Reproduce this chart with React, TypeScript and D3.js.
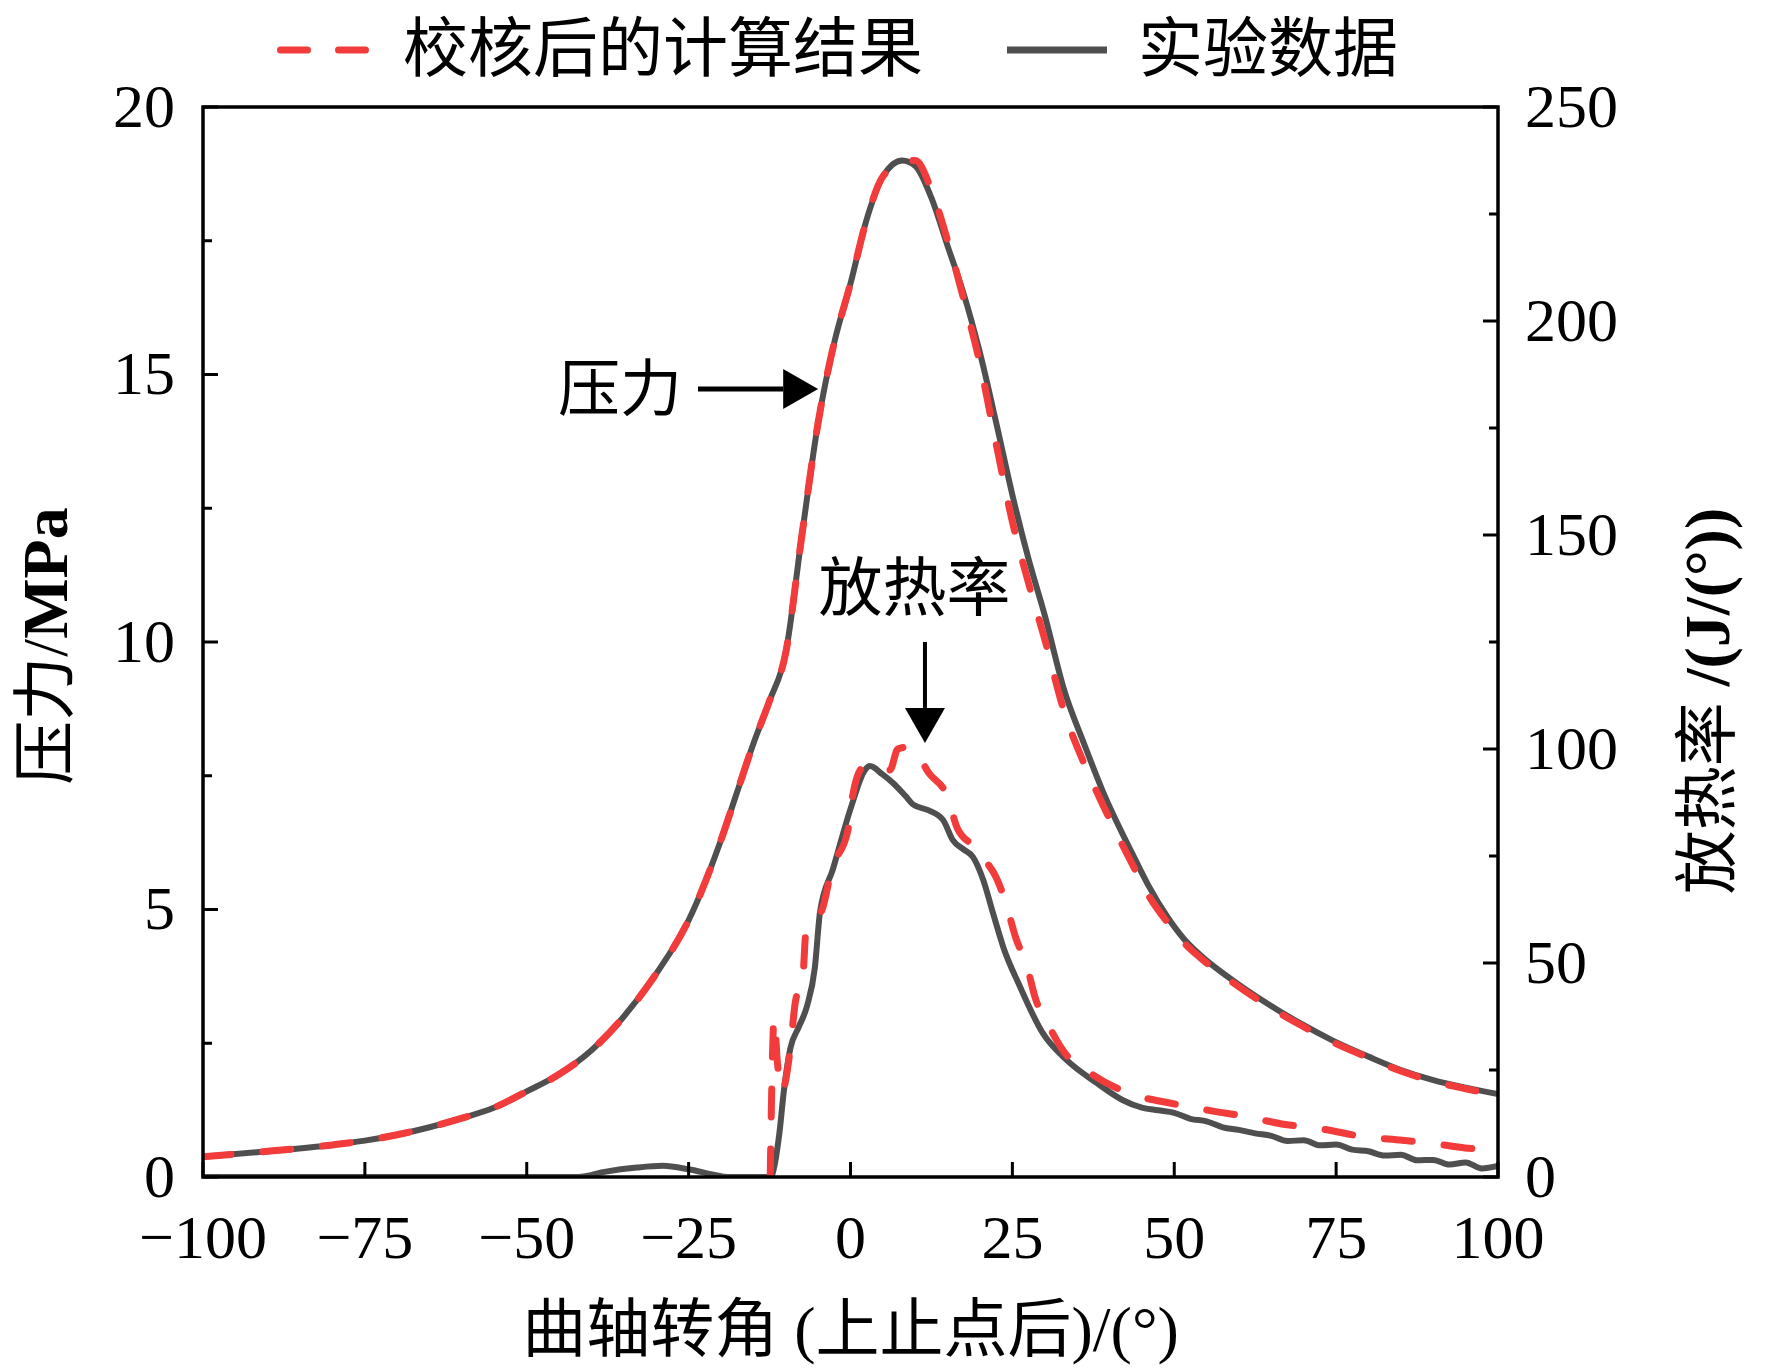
import React from "react";
import * as d3 from "d3";

// crank angle (deg after TDC) and cylinder pressure (MPa)
const pressureAngles = [
  -100, -90, -80, -75, -70, -65, -60, -55, -50, -45, -40, -35, -30, -25, -20,
  -17.5, -15, -12.5, -10, -7.5, -5, -2.5, 0, 2.5, 5, 8, 10, 12.5, 15, 17.5, 20,
  22.5, 25, 27.5, 30, 33, 36, 39, 43.5, 46, 49, 51.5, 54, 59, 64, 69.5, 74.5,
  80, 85, 90, 95, 100,
];
const pressureExp = [
  0.38, 0.48, 0.6, 0.68, 0.79, 0.93, 1.1, 1.3, 1.6, 1.92, 2.37, 3.0, 3.8, 4.8,
  6.3, 7.2, 8.1, 8.9, 9.8, 12.0, 14.1, 15.6, 16.7, 17.9, 18.7, 19.0, 18.9,
  18.3, 17.4, 16.5, 15.4, 14.1, 12.75, 11.55, 10.5, 9.1, 8.12, 7.2, 6.05, 5.45,
  4.85, 4.45, 4.15, 3.68, 3.27, 2.87, 2.55, 2.25, 2.0, 1.81, 1.67, 1.55,
];
const pressureCalc = [
  0.38, 0.48, 0.6, 0.68, 0.79, 0.93, 1.1, 1.3, 1.6, 1.92, 2.37, 3.0, 3.8, 4.8,
  6.3, 7.2, 8.1, 8.9, 9.8, 12.0, 14.1, 15.6, 16.7, 17.9, 18.7, 18.95, 19.0,
  18.45, 17.5, 16.4, 15.2, 13.7, 12.25, 11.1, 10.05, 8.7, 7.75, 6.95, 5.85,
  5.27, 4.75, 4.38, 4.1, 3.64, 3.23, 2.84, 2.52, 2.23, 1.98, 1.79, 1.65, 1.53,
];

// heat release rate (J/deg)
const hrrExpAngles = [
  -100, -42, -38, -33, -29, -25, -21, -19, -12.4, -11, -10.3, -9.3, -8, -6.7,
  -5.5, -4.7, -2.7, 0, 2.2, 3, 5, 6.6, 8.5, 9.7, 12, 14.3, 15.8, 17.5, 18.9,
  20.5, 22, 23.6, 26.2, 29.7, 33.4, 38, 42, 45, 47.5, 50, 52.5, 55, 57.5, 60,
  62.5, 65, 67.5, 70, 72.5, 75, 77.5, 80, 82.5, 85, 87.5, 90, 92.5, 95, 97.5,
  100,
];
const hrrExp = [
  0, 0, 1.2, 2.2, 2.6, 1.8, 0.5, 0, 0, 10, 20, 30, 35, 40, 49, 62, 72, 86, 95,
  96, 94, 92, 89, 87, 85.7, 83.4, 78.7, 76.5, 74.8, 69.4, 61.7, 53.7, 44.4,
  33.6, 27.3, 22, 18, 16.2, 15.6, 15.0, 13.6, 13.0, 11.6, 11.0, 10.2, 9.6, 8.4,
  8.6, 7.4, 7.6, 6.4, 6.0, 5.0, 5.2, 3.9, 4.0, 2.9, 3.4, 2.0, 2.6,
];
const hrrCalcAngles = [
  -12.4, -11.8, -11.3, -10.6, -9.3, -8.6, -7.3, -6.9, -5, -4.4, -2.9, -0.4, 0.2,
  1.9, 3, 6.1, 7.3, 9, 10.4, 12, 15, 16.5, 19.7, 20.8, 22.5, 24, 25.5, 27.3,
  28.5, 30.8, 32.8, 37.5, 44.4, 49.3, 56, 60.5, 66.6, 72.8, 79.8, 85.2, 90.6,
  94.9, 100,
];
const hrrCalc = [
  0, 37, 27, 20, 30, 40, 48, 57, 61, 62.4, 72, 81, 88, 95.8, 96.3, 95.1, 100,
  100.5, 98.6, 94.6, 88.8, 81.5, 76.4, 74, 70, 64, 56, 49, 42, 34.8, 29.6, 23.8,
  18.9, 17.3, 15.4, 14.3, 12.4, 11.2, 9.3, 8.6, 7.7, 6.8, 6.3,
];

const xTicks = [-100, -75, -50, -25, 0, 25, 50, 75, 100];
const leftTicks = [0, 5, 10, 15, 20];
const leftMinor = [2.5, 7.5, 12.5, 17.5];
const rightTicks = [0, 50, 100, 150, 200, 250];
const rightMinor = [25, 75, 125, 175, 225];

const W = 1772;
const H = 1368;
const plot = { left: 203, right: 1498, top: 107, bottom: 1177 };

const RED = "#F23C3C";
const GRAY = "#4F4F4F";
const FONT = "'Liberation Serif', 'Times New Roman', 'Noto Sans CJK SC', serif";

export default function App() {
  const x = d3.scaleLinear().domain([-100, 100]).range([plot.left, plot.right]);
  const yP = d3.scaleLinear().domain([0, 20]).range([plot.bottom, plot.top]);
  const yH = d3.scaleLinear().domain([0, 250]).range([plot.bottom, plot.top]);
  const fmt = d3.format("d");

  const lineOf = (xs: number[], ys: number[], y: d3.ScaleLinear<number, number>) =>
    d3
      .line<number>()
      .x((_, i) => x(xs[i]))
      .y((d) => y(d))
      .curve(d3.curveMonotoneX)(ys) || "";

  const dash = "28 32";
  const majorLen = 15;
  const minorLen = 9;

  // annotation anchors in data space
  const pTip = { x: x(-5), y: yP(14.73) };
  const pTail = x(-23.55);
  const pHead = x(-10.4);
  const hX = x(11.5);
  const hTop = yH(125);
  const hHead = yH(109.6);
  const hTip = yH(101.4);

  return (
    <svg
      width={W}
      height={H}
      viewBox={`0 0 ${W} ${H}`}
      style={{ position: "absolute", left: 0, top: 0, background: "#fff" }}
      fontFamily={FONT}
    >
      <rect width={W} height={H} fill="#fff" />
      <defs>
        <clipPath id="plot-clip">
          <rect
            x={plot.left}
            y={plot.top}
            width={plot.right - plot.left}
            height={plot.bottom - plot.top}
          />
        </clipPath>
      </defs>

      {/* curves */}
      <g clipPath="url(#plot-clip)" fill="none">
        <path d={lineOf(pressureAngles, pressureExp, yP)} stroke={GRAY} strokeWidth={6} />
        <path d={lineOf(hrrExpAngles, hrrExp, yH)} stroke={GRAY} strokeWidth={6} />
        <path
          d={lineOf(pressureAngles, pressureCalc, yP)}
          stroke={RED}
          strokeWidth={7}
          strokeDasharray={dash}
          strokeLinecap="round"
        />
        <path
          d={lineOf(hrrCalcAngles, hrrCalc, yH)}
          stroke={RED}
          strokeWidth={7}
          strokeDasharray={dash}
          strokeLinecap="round"
        />
      </g>

      {/* frame */}
      <rect
        x={plot.left}
        y={plot.top}
        width={plot.right - plot.left}
        height={plot.bottom - plot.top}
        fill="none"
        stroke="#000"
        strokeWidth={3.5}
      />

      {/* bottom axis */}
      {xTicks.map((t) => (
        <g key={`x${t}`}>
          <line x1={x(t)} x2={x(t)} y1={plot.bottom} y2={plot.bottom - majorLen} stroke="#000" strokeWidth={3} />
          <text x={x(t)} y={1258} fontSize={62} textAnchor="middle">
            {fmt(t)}
          </text>
        </g>
      ))}

      {/* left axis */}
      {leftTicks.map((t) => (
        <g key={`l${t}`}>
          <line x1={plot.left} x2={plot.left + majorLen} y1={yP(t)} y2={yP(t)} stroke="#000" strokeWidth={3} />
          <text x={175} y={yP(t)} dy="0.32em" fontSize={62} textAnchor="end">
            {fmt(t)}
          </text>
        </g>
      ))}
      {leftMinor.map((t) => (
        <line key={`lm${t}`} x1={plot.left} x2={plot.left + minorLen} y1={yP(t)} y2={yP(t)} stroke="#000" strokeWidth={3} />
      ))}

      {/* right axis */}
      {rightTicks.map((t) => (
        <g key={`r${t}`}>
          <line x1={plot.right} x2={plot.right - majorLen} y1={yH(t)} y2={yH(t)} stroke="#000" strokeWidth={3} />
          <text x={1525} y={yH(t)} dy="0.32em" fontSize={62} textAnchor="start">
            {fmt(t)}
          </text>
        </g>
      ))}
      {rightMinor.map((t) => (
        <line key={`rm${t}`} x1={plot.right} x2={plot.right - minorLen} y1={yH(t)} y2={yH(t)} stroke="#000" strokeWidth={3} />
      ))}

      {/* axis titles */}
      <text x={(plot.left + plot.right) / 2} y={1351} fontSize={64} textAnchor="middle">
        曲轴转角 (上止点后)/(°)
      </text>
      <text
        transform={`translate(67, ${(plot.top + plot.bottom) / 2 + 4}) rotate(-90)`}
        fontSize={64}
        textAnchor="middle"
      >
        压力/<tspan fontWeight="bold">MPa</tspan>
      </text>
      <text
        transform={`translate(1729, 701) rotate(-90)`}
        fontSize={64}
        textAnchor="middle"
      >
        放热率 <tspan fontWeight="bold">/(J/(°))</tspan>
      </text>

      {/* legend */}
      <line x1={280.5} x2={365.5} y1={50} y2={50} stroke={RED} strokeWidth={7} strokeDasharray="27 31" strokeLinecap="round" />
      <text x={403} y={71} fontSize={65}>
        校核后的计算结果
      </text>
      <line x1={1007} x2={1107} y1={50} y2={50} stroke={GRAY} strokeWidth={7} />
      <text x={1138} y={71} fontSize={65}>
        实验数据
      </text>

      {/* annotations */}
      <text x={pTail - 16} y={pTip.y + 22} fontSize={62} textAnchor="end">
        压力
      </text>
      <line x1={pTail} x2={pHead} y1={pTip.y} y2={pTip.y} stroke="#000" strokeWidth={5} />
      <path
        d={`M${pHead},${pTip.y - 20} L${pTip.x},${pTip.y} L${pHead},${pTip.y + 20} Z`}
        fill="#000"
      />
      <text x={x(9.9)} y={yH(138) + 24} fontSize={64} textAnchor="middle">
        放热率
      </text>
      <line x1={hX} x2={hX} y1={hTop} y2={hHead} stroke="#000" strokeWidth={4} />
      <path d={`M${hX - 20},${hHead} L${hX},${hTip} L${hX + 20},${hHead} Z`} fill="#000" />
    </svg>
  );
}
